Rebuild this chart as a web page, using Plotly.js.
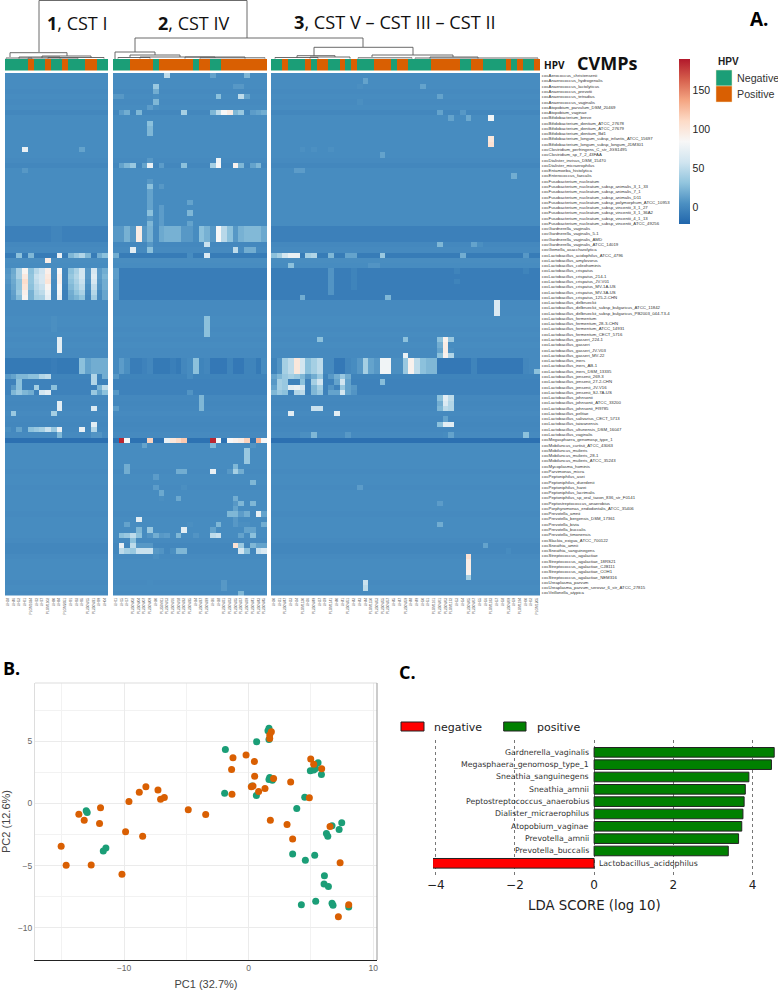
<!DOCTYPE html>
<html><head><meta charset="utf-8">
<script src="https://cdn.plot.ly/plotly-3.0.1.min.js"></script>
<style>html,body{margin:0;padding:0;background:#fff}#g{width:778px;height:990px}</style>
</head><body><div id="g"></div>
<script>
// ---------- Panel A data ----------
const rowLabels = ["cocAerococcus_christensenii","cocAnaerococcus_hydrogenalis","cocAnaerococcus_lactolyticus","cocAnaerococcus_prevotii","cocAnaerococcus_tetradius","cocAnaerococcus_vaginalis","cocAtopobium_parvulum_DSM_20469","cocAtopobium_vaginae","cocBifidobacterium_breve","cocBifidobacterium_dentium_ATCC_27678","cocBifidobacterium_dentium_ATCC_27679","cocBifidobacterium_dentium_Bd1","cocBifidobacterium_longum_subsp_infantis_ATCC_15697","cocBifidobacterium_longum_subsp_longum_JDM301","cocClostridium_perfringens_C_str_JGS1495","cocClostridium_sp_7_2_43FAA","cocDialister_invisus_DSM_15470","cocDialister_micraerophilus","cocEntamoeba_histolytica","cocEnterococcus_faecalis","cocFusobacterium_nucleatum","cocFusobacterium_nucleatum_subsp_animalis_3_1_33","cocFusobacterium_nucleatum_subsp_animalis_7_1","cocFusobacterium_nucleatum_subsp_animalis_D11","cocFusobacterium_nucleatum_subsp_polymorphum_ATCC_10953","cocFusobacterium_nucleatum_subsp_vincentii_3_1_27","cocFusobacterium_nucleatum_subsp_vincentii_3_1_36A2","cocFusobacterium_nucleatum_subsp_vincentii_4_1_13","cocFusobacterium_nucleatum_subsp_vincentii_ATCC_49256","cocGardnerella_vaginalis","cocGardnerella_vaginalis_5-1","cocGardnerella_vaginalis_AMD","cocGardnerella_vaginalis_ATCC_14019","cocGemella_asaccharolytica","cocLactobacillus_acidophilus_ATCC_4796","cocLactobacillus_amylovorus","cocLactobacillus_coleohominis","cocLactobacillus_crispatus","cocLactobacillus_crispatus_214-1","cocLactobacillus_crispatus_JV-V01","cocLactobacillus_crispatus_MV-1A-US","cocLactobacillus_crispatus_MV-3A-US","cocLactobacillus_crispatus_125-2-CHN","cocLactobacillus_delbrueckii","cocLactobacillus_delbrueckii_subsp_bulgaricus_ATCC_11842","cocLactobacillus_delbrueckii_subsp_bulgaricus_PB2003_044-T3-4","cocLactobacillus_fermentum","cocLactobacillus_fermentum_28-3-CHN","cocLactobacillus_fermentum_ATCC_14931","cocLactobacillus_fermentum_CECT_5716","cocLactobacillus_gasseri_224-1","cocLactobacillus_gasseri","cocLactobacillus_gasseri_JV-V03","cocLactobacillus_gasseri_MV-22","cocLactobacillus_iners","cocLactobacillus_iners_AB-1","cocLactobacillus_iners_DSM_13335","cocLactobacillus_jensenii_269-3","cocLactobacillus_jensenii_27-2-CHN","cocLactobacillus_jensenii_JV-V16","cocLactobacillus_jensenii_SJ-7A-US","cocLactobacillus_johnsonii","cocLactobacillus_johnsonii_ATCC_33200","cocLactobacillus_johnsonii_FI9785","cocLactobacillus_pelitae","cocLactobacillus_salivarius_CECT_5713","cocLactobacillus_taiwanensis","cocLactobacillus_ultunensis_DSM_16047","cocLactobacillus_vaginalis","cocMegasphaera_genomosp_type_1","cocMobiluncus_curtisii_ATCC_43063","cocMobiluncus_mulieris","cocMobiluncus_mulieris_28-1","cocMobiluncus_mulieris_ATCC_35243","cocMycoplasma_hominis","cocParvimonas_micra","cocPeptoniphilus_asei","cocPeptoniphilus_duerdenii","cocPeptoniphilus_harei","cocPeptoniphilus_lacrimalis","cocPeptoniphilus_sp_oral_taxon_836_str_F0141","cocPeptostreptococcus_anaerobius","cocPorphyromonas_endodontalis_ATCC_35406","cocPrevotella_amnii","cocPrevotella_bergensis_DSM_17361","cocPrevotella_bivia","cocPrevotella_buccalis","cocPrevotella_timonensis","cocSlackia_exigua_ATCC_700122","cocSneathia_amnii","cocSneathia_sanguinegens","cocStreptococcus_agalactiae","cocStreptococcus_agalactiae_18RS21","cocStreptococcus_agalactiae_CJB111","cocStreptococcus_agalactiae_COH1","cocStreptococcus_agalactiae_NEM316","cocUreaplasma_parvum","cocUreaplasma_parvum_serovar_6_str_ATCC_27815","cocVeillonella_atypica"];

const samples1 = ["UH38","UH46","UH52","UH61","PLGM1024","UH72","UH77","PLGM1102","UH80","UH84","PLGM2051","UH91","UH93","UH95","PL250W15","PL250W21","UH99","UH04"];
const samples2 = ["UH11","UH15","UH17","PL250W02","PL250W04","PL250W07","PL250W09","UH20","PL250W11","PL250W13","PL250W16","PL250W18","PL250W22","PL250W25","UH24","PL250W27","PL250W29","UH26","UH28","PL250W31","PL250W33","PL250W35","PL250W37","PL250W39","PL250W41","PL250W43","PL250W45"];
const samples3 = ["UH30","UH31","PL250W47","UH33","UH34","PLGM1130","UH36","PL250W49","UH37","UH39","PLGM1141","UH40","UH41","PL250W51","UH42","UH43","UH44","PLGM1150","PL250W53","PL250W55","PL250W57","UH45","UH47","PL250W59","UH48","UH49","UH50","UH51","PLGM1161","PL250W61","PL250W63","PLGM1172","UH53","UH54","PL250W65","PL250W67","UH55","UH56","PLGM1183","UH57","UH58","PL250W69","UH59","PLGM1194","UH60","UH62","PLGM1205"];

const hpv1 = [0,0,0,0,1,0,0,1,0,0,1,0,0,0,1,1,0,0];
const hpv2 = [0,0,0,1,1,1,1,0,1,1,1,1,1,1,0,1,1,0,0,1,1,1,1,1,1,1,1];
const hpv3 = [0,0,1,0,0,0,1,0,1,1,0,0,1,0,1,0,0,0,1,1,1,0,1,1,0,0,0,0,1,1,1,1,1,0,0,1,1,0,0,0,0,1,0,1,0,0,1];

const rowBase = [3,3,3,2,3,2,3,0,3,3,3,3,3,3,3,3,2,0,3,3,3,3,3,3,3,3,3,3,3,-4,-4,-4,1,2,-7,4,3,-6,-6,-6,-6,-6,-6,2,2,2,3,3,2,3,2,3,2,2,-8,-8,-8,-2,-3,-3,-3,1,0,1,2,1,0,1,2,-14,3,3,3,3,3,2,3,3,2,3,3,3,3,2,3,3,3,3,2,0,0,2,3,3,3,3,2,3,2];

// [row, col, value]
const hot1 = [[14,3,75],[14,13,15],[18,3,10],
 [29,8,-1],[30,8,-1],[31,8,-1],[29,9,-1],[30,9,-1],[31,9,-1],
 [34,2,30],[34,4,25],[34,9,75],[34,11,25],[34,12,35],[34,13,45],[34,14,25],[34,16,20],[34,17,30],[35,7,95],
 [46,8,5],[47,8,5],[48,8,5],[50,9,70],[51,9,70],[52,9,70],
 [57,0,10],[57,1,15],[57,2,25],[57,3,25],[57,4,30],[57,5,30],[57,6,45],[57,7,50],[57,15,45],[57,17,20],
 [58,2,30],[58,15,45],
 [59,1,10],[59,2,30],[59,5,40],[59,8,30],[59,16,25],[59,17,50],
 [60,1,25],[60,2,35],[60,3,25],[60,4,20],[60,6,60],[60,7,70],[60,15,35],[60,16,15],[60,17,30],
 [62,9,70],[63,9,70],[63,15,65],[64,1,35],[64,8,40],[66,15,70],
 [67,0,5],[67,2,15],[67,4,30],[67,5,35],[67,6,40],[67,7,55],[67,8,35],[67,9,75],[67,13,75],[67,15,45],
 [68,9,25],[68,15,8],[68,16,8]];

const crispatus1 = [
 [8,18,42,88,30,48,58,92,5,85,0,30,42,60,10,62,12,20],
 [10,20,42,98,32,55,62,98,5,90,0,34,46,60,10,68,12,24],
 [8,18,32,108,32,52,62,102,3,90,0,30,42,55,8,62,10,20],
 [6,16,32,102,30,48,55,88,3,85,-2,26,38,50,5,52,8,20],
 [3,14,36,92,22,44,50,78,0,80,-4,20,32,42,2,46,3,16],
 [3,12,28,88,22,40,42,72,0,75,-4,18,24,32,0,38,2,16]];
const iners1 = [-8,-8,-8,-8,-8,-8,-8,-8,-6,-8,-8,-8,-8,30,15,20,20,20];

const gardnerella2 = [10,10,22,10,95,10,22,2,18,22,22,22,10,10,3,30,22,10,85,48,30,10,22,26,26,26,18];
const iners2 = [2,12,5,-6,-6,-3,0,-8,-8,-8,-5,-8,0,3,30,-2,0,-9,-9,-9,-2,-9,-9,-2,-2,-8,3];
const megasphaera2 = [-13,185,85,-13,-13,-13,115,-13,-13,75,100,110,120,-13,-13,-13,-13,185,85,-13,85,90,95,115,-13,130,85];
const hot2 = [[0,9,50],[0,17,15],[0,23,25],[2,7,35],[3,7,20],[2,21,10],[2,22,10],
 [4,0,10],[4,1,10],[4,7,5],[4,18,30],[4,22,50],[4,23,15],[5,7,25],[6,6,12],[6,7,5],
 [7,1,12],[7,2,20],[7,4,25],[7,12,40],[7,17,25],[7,18,50],[7,19,85],[7,20,95],[7,21,25],[7,22,35],[7,24,12],[7,25,15],[7,26,20],
 [9,6,30],[10,6,25],[11,6,25],[16,6,10],[16,18,80],
 [17,1,15],[17,2,25],[17,3,35],[17,5,15],[17,6,75],[17,8,12],[17,12,30],[17,17,40],[17,18,85],[17,21,90],[17,22,25],[17,24,15],[17,25,25],
 [20,6,10],[21,6,30],[22,6,15],[23,6,15],[24,6,15],[25,6,15],[26,6,30],[27,6,10],[28,6,25],
 [21,8,10],[25,8,12],[26,8,12],[27,8,12],[28,8,12],[24,13,15],[26,13,25],[28,13,15],
 [32,16,55],[32,6,10],[33,3,70],[33,6,30],[33,21,50],[33,23,20],[33,24,20],
 [34,0,20],[34,13,3],[34,16,65],
 [37,0,12],[38,0,12],[39,0,10],[40,0,10],[41,0,8],[42,0,8],
 [46,16,30],[47,16,30],[48,16,30],[49,16,30],
 [57,0,10],[57,13,3],[60,0,10],[60,13,8],[61,15,25],[62,15,25],[63,15,25],[63,0,12],
 [70,5,15],[70,17,25],[70,24,8],[71,23,35],[72,23,35],[73,23,35],
 [74,2,20],[75,2,20],[74,21,25],[75,21,40],[75,11,20],[75,12,20],[75,17,75],[75,20,10],[75,22,20],
 [76,7,12],[77,24,25],[78,7,12],[78,12,5],[79,8,18],[80,8,5],[80,11,18],[80,21,20],[81,21,10],[81,22,25],[81,24,25],[82,21,15],
 [83,20,25],[83,21,25],[83,22,12],[83,23,20],[83,25,75],[83,26,15],[84,4,70],[84,21,10],
 [85,2,15],[85,13,5],[85,18,25],[85,21,10],[85,22,5],[85,23,5],[85,26,20],
 [86,4,25],[86,6,35],[86,12,70],[86,17,15],[86,23,15],[86,24,15],
 [87,1,30],[87,2,35],[87,3,50],[87,4,30],[87,6,8],[87,7,20],[87,8,10],[87,9,12],[87,11,25],[87,14,8],[87,17,50],[87,18,55],[87,22,15],[87,24,30],
 [88,3,30],
 [89,1,75],[89,3,50],[89,4,10],[89,5,10],[89,6,10],[89,21,105],[89,22,35],[89,24,25],[89,25,15],[89,26,15],
 [90,1,50],[90,2,40],[90,3,35],[90,4,55],[90,5,55],[90,6,55],[90,7,10],[90,8,8],[90,10,5],[90,11,25],[90,12,25],[90,22,60],[90,23,30],[90,25,55],[90,26,65],
 [91,7,5],[96,19,10],[97,19,10],[96,6,3],[98,22,25]];

const iners3 = [-2,8,40,50,100,60,30,40,50,2,2,-9,-9,0,3,10,40,15,10,80,80,5,5,35,90,50,30,25,25,-9,-9,-9,-9,-9,-9,-2,-9,-9,-9,-9,-9,-9,-9,-9,0,2,2];
const hot3 = [[1,16,15],[2,15,5],[5,15,5],[8,11,3],[14,5,6],[14,7,6],[14,10,6],[15,19,15],[18,4,12],[18,5,12],
 [2,26,15],[4,29,15],[7,29,15],[7,33,10],[8,31,15],[8,34,18],[8,38,80],[12,38,100],[13,38,105],[19,42,20],
 [32,29,25],[32,35,15],[32,36,5],
 [34,0,30],[34,1,40],[34,2,60],[34,3,75],[34,4,75],[34,6,40],[34,7,45],[34,10,25],[34,13,15],[34,14,15],[34,19,35],[34,33,20],[34,44,10],
 [36,3,30],[36,17,8],[36,18,8],
 [37,10,8],[38,10,8],[39,10,8],[40,10,8],[41,10,8],[37,14,-2],[38,14,-2],[39,14,-2],[40,14,-2],[37,32,-2],[39,32,-2],[37,44,-2],
 [42,5,20],[42,20,25],[43,39,65],[44,39,65],[45,39,65],
 [50,8,30],[50,23,30],[50,29,30],[50,30,90],[50,31,35],[51,29,20],[51,30,95],[52,29,15],[52,30,95],[52,31,5],[53,23,75],[53,29,30],[53,30,90],[53,31,45],
 [56,46,30],
 [57,0,15],[57,1,25],[57,2,35],[57,3,40],[57,4,35],[57,5,25],[57,6,10],[57,7,20],[57,8,35],[57,10,10],[57,11,20],[57,12,35],[57,13,20],
 [58,0,10],[58,1,40],[58,2,35],[58,5,30],[58,7,40],[58,8,60],[58,11,15],[58,12,60],[58,13,15],[58,19,28],
 [59,0,15],[59,1,40],[59,2,35],[59,3,70],[59,4,75],[59,5,60],[59,7,25],[59,8,40],[59,10,8],[59,12,35],[59,13,15],[59,14,10],
 [60,0,25],[60,1,35],[60,2,30],[60,4,45],[60,5,50],[60,7,25],[60,8,35],[60,10,15],[60,11,15],[60,12,60],[60,13,15],[60,14,8],
 [61,29,30],[61,30,70],[61,31,50],[62,29,20],[62,30,65],[62,31,45],[63,29,25],[63,30,50],[63,31,45],
 [63,7,55],[63,8,55],[64,3,70],[64,11,70],[65,30,15],[66,29,30],[66,30,70],[66,31,70],
 [68,5,5],[68,6,5],[68,7,25],[68,13,10],[68,30,3],[68,31,15],[68,44,30],
 [78,15,12],[81,29,12],[85,29,20],[89,37,15],[90,41,3],
 [91,34,105],[92,34,95],[93,34,95],[94,34,90],[95,34,40],[96,16,55],[97,16,50]];

const dendroX = [39,39,247,247,null,135,135,363,363,null,314,314,413,413,null,
 10,10,67,67,null,42,42,91,91,null,19,19,60,60,null,6,6,32,32,null,48,48,104,104,null,28,28,78,78,null,
 115,115,155,155,null,130,130,180,180,null,140,140,215,215,null,185,185,245,245,null,118,118,150,150,null,200,200,265,265,null,
 297,297,335,335,null,372,372,453,453,null,275,275,318,318,null,310,310,350,350,null,358,358,412,412,null,430,430,478,478,null,415,415,538,538,null];
const dendroY = [52,0.5,0.5,38,null,52,38,38,47,null,56,47.3,47.3,55,null,
 57,52.7,52.7,56,null,58,56,56,58,null,58.5,57,57,58.5,null,58.5,58,58,58.5,null,58.5,57.5,57.5,58.5,null,58.5,58,58,58.5,null,
 59,52,52,55,null,57,55,55,57,null,58.5,57,57,58,null,58.5,57,57,58.5,null,58.5,57.5,57.5,58.5,null,58.5,57.8,57.8,58.5,null,
 58,55.7,55.7,57,null,57,55,55,57,null,58.5,57.5,57.5,58.5,null,58.5,57,57,58.5,null,58.5,57.8,57.8,58.5,null,58.5,57,57,58.5,null,58.5,58,58,58.5,null];

// ---------- Panel B data ----------
const negPC1 = [-13.04,-12.96,-11.67,-11.46,-1.87,-1.93,0.64,1.63,1.55,1.63,0.62,0.27,1.69,1.63,1.9,4.95,5.22,5.38,5.57,5.84,4.5,3.86,6.69,7.47,7.26,6.24,6.35,3.53,4.55,5.3,6.08,6.05,6.4,4.23,5.38,6.69,6.77,8.03];
const negPC2 = [-0.59,-0.73,-3.82,-3.58,4.35,0.83,4.97,6.05,5.86,5.16,0.65,1.4,2.1,1.94,1.88,2.63,2.69,2.82,3.28,2.34,0.51,-0.4,-1.8,-1.56,-2.1,-2.42,-2.63,-4.06,-4.57,-4.17,-5.81,-6.48,-6.69,-8.15,-7.88,-8.04,-8.2,-8.33];
const posPC1 = [-15.05,-14.65,-12.64,-10.17,-13.63,-13.2,-11.89,-11.97,-9.88,-8.51,-9.61,-8.78,-8.25,-7.28,-7.07,-6.77,-4.85,-3.45,-1.26,-1.37,-1.34,-0.21,0.46,0.48,0.21,0.35,0.8,1.31,2.0,1.74,1.69,1.69,1.82,3.37,3.08,3.53,4.98,5.22,5.86,4.87,6.53,7.34,7.2,8.03];
const posPC2 = [-3.44,-4.97,-4.95,-5.7,-0.86,-1.34,-0.35,-1.61,-2.28,-2.63,0.16,0.91,1.34,1.08,0.35,0.48,-0.51,-0.89,3.68,2.74,0.75,3.9,3.39,2.2,1.34,1.4,0.97,1.21,2.02,-1.34,5.24,5.51,5.78,1.72,-1.69,-2.85,3.58,3.15,2.8,0.46,-1.85,-4.78,-9.11,-8.15];

// ---------- Panel C data ----------
const ldaTaxa = ["Gardnerella_vaginalis","Megasphaera_genomosp_type_1","Sneathia_sanguinegens","Sneathia_amnii","Peptostreptococcus_anaerobius","Dialister_micraerophilus","Atopobium_vaginae","Prevotella_amnii","Prevotella_buccalis","Lactobacillus_acidophilus"];
const ldaScore = [4.55,4.48,3.91,3.82,3.79,3.76,3.73,3.65,3.39,-4.08];

// ---------- helpers ----------
const W = 778, H = 990;
const fx = a => a.map(p => p / W);
const fy = (top, bot) => [1 - bot / H, 1 - top / H];
const GREEN = '#1B9E77', ORANGE = '#D95F02';

function buildZ(nCols, hot) {
  const z = rowBase.map(b => new Array(nCols).fill(b));
  hot.forEach(h => { z[h[0]][h[1]] = h[2]; });
  return z;
}
const z1 = buildZ(18, hot1);
crispatus1.forEach((r, i) => { z1[37 + i] = r.slice(); });
[54,55,56].forEach(r => { z1[r] = iners1.slice(); });
const z2 = buildZ(27, hot2);
[29,30,31].forEach(r => { z2[r] = gardnerella2.slice(); });
[54,55,56].forEach(r => { z2[r] = iners2.slice(); });
z2[69] = megasphaera2.slice();
const z3 = buildZ(47, hot3);
[54,55,56].forEach(r => { const keep = z3[r][46]; z3[r] = iners3.slice(); if (r === 56) z3[r][46] = keep; });

const hm = (z, x, xa) => ({type:'heatmap', z, x, y: rowLabels, xaxis: xa, yaxis:'y', coloraxis:'coloraxis', hoverongaps:false, xgap:0, ygap:0});
const bar = (h, x, xa) => ({type:'heatmap', z:[h], x, y:['HPV'], xaxis:xa, yaxis:'y5', zmin:0, zmax:1, showscale:false, colorscale:[[0,GREEN],[0.5,GREEN],[0.5,ORANGE],[1,ORANGE]]});

const data = [
  hm(z1, samples1, 'x'), hm(z2, samples2, 'x2'), hm(z3, samples3, 'x3'),
  bar(hpv1, samples1, 'x'), bar(hpv2, samples2, 'x2'), bar(hpv3, samples3, 'x3'),
  {type:'scatter', mode:'lines', x:dendroX, y:dendroY, xaxis:'x4', yaxis:'y4', line:{color:'#5a5a5a', width:0.9}, connectgaps:false, hoverinfo:'skip', showlegend:false},
  {type:'scatter', mode:'markers', x:negPC1, y:negPC2, xaxis:'x5', yaxis:'y6', marker:{color:GREEN, size:7}, name:'Negative', showlegend:false},
  {type:'scatter', mode:'markers', x:posPC1, y:posPC2, xaxis:'x5', yaxis:'y6', marker:{color:ORANGE, size:7}, name:'Positive', showlegend:false},
  {type:'bar', orientation:'h', x:ldaScore, y:ldaTaxa.map((t,i)=>i), xaxis:'x6', yaxis:'y7', width:0.78,
   marker:{color:ldaScore.map(v=>v<0?'#ff0000':'#008000'), line:{color:'#222', width:1}}, showlegend:false, text:ldaTaxa, textposition:'none', hovertemplate:'%{text}: %{x}<extra></extra>'}
];

const cat = (dom) => ({domain:fx(dom), type:'category', anchor:'y', tickmode:'linear', tick0:0, dtick:1, tickangle:-90, ticklen:0,
  tickfont:{size:3.3, family:'Liberation Sans', color:'#555'}, showgrid:false, zeroline:false, showline:false, fixedrange:true});

const anns = [];
const ann = (px, py, text, size, family, color, anchor, extra) => anns.push(Object.assign({xref:'paper', yref:'paper', x:px/W, y:1-py/H, text, showarrow:false,
  xanchor:anchor||'left', yanchor:'middle', font:{size, family, color:color||'#111'}}, extra||{}));
const OS = 'Open Sans';
ann(45, 23, '<b>1</b>, CST I', 18, OS);
ann(156, 23, '<b>2</b>, CST IV', 18, OS);
ann(292, 22, '<b>3</b>, CST V – CST III – CST II', 18.2, OS);
ann(542, 65, '<b>HPV</b>', 10, OS);
ann(575, 63, '<b>CVMPs</b>', 18, OS);
ann(748, 19, '<b>A.</b>', 19, OS, '#000');
ann(1, 668, '<b>B.</b>', 18, OS, '#000');
ann(397, 672, '<b>C.</b>', 18, OS, '#000');
ann(716, 62, '<b>HPV</b>', 10, 'Liberation Sans', '#222');
ann(735, 78, 'Negative', 10.7, 'Liberation Sans', '#333');
ann(735, 94, 'Positive', 10.7, 'Liberation Sans', '#333');
// Panel C legend labels
ann(432, 727, 'negative', 11, 'DejaVu Sans', '#222');
ann(535, 727, 'positive', 11, 'DejaVu Sans', '#222');
ann(594, 905, 'LDA SCORE (log 10)', 13.3, 'DejaVu Sans', '#222', 'center');
// Panel C bar labels, through the axes
ldaTaxa.forEach((t,i) => anns.push({xref:'x6', yref:'y7', x:0, y:i, text:t, showarrow:false,
  xanchor: ldaScore[i] < 0 ? 'left' : 'right', xshift: ldaScore[i] < 0 ? 3 : -3, yanchor:'middle',
  font:{size:7.8, family:'DejaVu Sans', color:'#333'}}));

const rect = (x0,y0,x1,y1,fill,line) => ({type:'rect', xref:'paper', yref:'paper', x0:x0/W, x1:x1/W, y0:1-y1/H, y1:1-y0/H, fillcolor:fill, line:line||{width:0}});
const seg = (x0,y0,x1,y1,c) => ({type:'line', xref:'paper', yref:'paper', x0:x0/W, x1:x1/W, y0:1-y0/H, y1:1-y1/H, line:{color:c, width:1}});

const layout = {
  width:W, height:H, margin:{l:0,r:0,t:0,b:0}, paper_bgcolor:'#fff', plot_bgcolor:'rgba(0,0,0,0)', showlegend:false,
  font:{family:'Liberation Sans'},
  coloraxis:{cmin:-20.5, cmax:190, showscale:true,
    colorscale:[[0,'#2166AC'],[0.125,'#4C90C2'],[0.25,'#92C5DE'],[0.375,'#D1E5F0'],[0.5,'#F7F7F7'],[0.625,'#FDDBC7'],[0.75,'#F4A582'],[0.875,'#D6604D'],[1,'#B2182B']],
    colorbar:{x:679/W, xanchor:'left', y:1-141/H, yanchor:'middle', lenmode:'pixels', len:165, thicknessmode:'pixels', thickness:11, outlinewidth:0, xpad:0, ypad:0,
      tickmode:'array', tickvals:[0,50,100,150], ticktext:['0','50','100','150'], ticks:'', ticklabelposition:'outside', tickfont:{size:10.5, family:'Liberation Sans', color:'#222'}}},
  xaxis: cat([5,108]), xaxis2: cat([113,267]), xaxis3: cat([271,540]),
  yaxis:{domain:fy(73,595.5), type:'category', autorange:'reversed', anchor:'x3', side:'right', tickmode:'linear', tick0:0, dtick:1, ticklen:0,
    tickfont:{size:4.3, family:'Liberation Sans', color:'#333'}, showgrid:false, zeroline:false, showline:false, fixedrange:true},
  xaxis4:{domain:[0,1], range:[0,W], visible:false, anchor:'y4', fixedrange:true},
  yaxis4:{domain:fy(0,72), range:[72,0], visible:false, anchor:'x4', fixedrange:true},
  yaxis5:{domain:fy(59,70.5), type:'category', visible:false, anchor:'x', fixedrange:true},
  xaxis5:{domain:fx([35,377]), range:[-17.15,10.3], anchor:'y6', tickvals:[-10,0,10], ticks:'', showgrid:true, gridcolor:'#ebebeb', gridwidth:1,
    minor:{tickvals:[-15,-5,5], showgrid:true, gridcolor:'#f2f2f2', gridwidth:1}, zeroline:false, showline:true, linecolor:'#222', linewidth:1,
    tickfont:{size:8.5, color:'#666'}, title:{text:'PC1 (32.7%)', font:{size:11, color:'#444'}, standoff:8}, fixedrange:true},
  yaxis6:{domain:fy(683,960), range:[-12.6,9.7], anchor:'x5', tickvals:[-10,-5,0,5], ticks:'', showgrid:true, gridcolor:'#ebebeb', gridwidth:1,
    minor:{tickvals:[-7.5,-2.5,2.5,7.5], showgrid:true, gridcolor:'#f2f2f2', gridwidth:1}, zeroline:false, showline:true, linecolor:'#ddd', linewidth:1,
    tickfont:{size:8.5, color:'#666'}, title:{text:'PC2 (12.6%)', font:{size:11, color:'#444'}, standoff:6}, fixedrange:true},
  xaxis6:{domain:fx([433,775]), range:[-4.07,4.57], anchor:'y7', tickvals:[-4,-2,0,2,4], ticks:'', showgrid:true, gridcolor:'#777', griddash:'dot', gridwidth:1, zeroline:false, showline:false,
    tickfont:{size:12, family:'DejaVu Sans', color:'#222'}, fixedrange:true},
  yaxis7:{domain:fy(740,876), range:[10.03,-1], anchor:'x6', visible:false, fixedrange:true},
  annotations:anns,
  shapes:[
    rect(716,70,732,86,GREEN,{color:'#f5e6c0',width:0.5}), rect(716,86,732,102,ORANGE,{color:'#f5e6c0',width:0.5}),
    rect(401,722,424,731,'#ff0000',{color:'#222',width:1}), rect(503.7,722,526,731,'#008000',{color:'#222',width:1}),
    seg(35,683,377,683,'#dddddd'), seg(377,683,377,960,'#999999')
  ]
};
Plotly.newPlot('g', data, layout, {displayModeBar:false, staticPlot:true});
</script></body></html>
